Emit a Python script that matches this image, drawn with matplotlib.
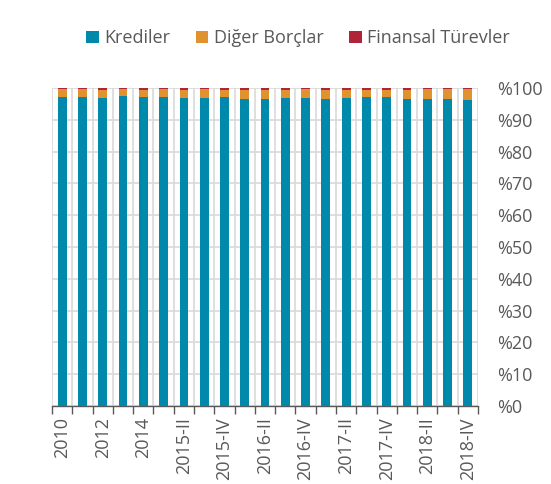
import numpy as np
import matplotlib.pyplot as plt

plt.rcParams['font.family'] = ['Open Sans', 'DejaVu Sans']

# categories (21 periods), only every other one is labelled
periods = ['2010', '2011', '2012', '2013', '2014',
           '2015-I', '2015-II', '2015-III', '2015-IV',
           '2016-I', '2016-II', '2016-III', '2016-IV',
           '2017-I', '2017-II', '2017-III', '2017-IV',
           '2018-I', '2018-II', '2018-III', '2018-IV']

# shares in percent
krediler = [97.3, 97.1, 96.9, 97.6, 97.2, 97.2, 97.0, 97.0, 97.1, 96.5, 96.5,
            96.9, 97.0, 96.5, 97.0, 97.3, 97.1, 96.6, 96.6, 96.4, 96.1]
diger = [2.5, 2.7, 2.6, 2.2, 2.3, 2.5, 2.5, 2.7, 2.4, 3.0, 3.0,
         2.6, 2.7, 3.0, 2.5, 2.2, 2.4, 2.9, 3.1, 3.3, 3.6]
finansal = [0.2, 0.2, 0.5, 0.2, 0.5, 0.3, 0.5, 0.3, 0.5, 0.5, 0.5,
            0.5, 0.3, 0.5, 0.5, 0.5, 0.5, 0.5, 0.3, 0.3, 0.3]

c_kred = '#0089AB'
c_dig = '#E09230'
c_fin = '#B0243A'
grey = '#595959'

fig = plt.figure(figsize=(5.51, 4.84), dpi=100)
ax = fig.add_axes([0.0944, 0.1612, 0.7731, 0.657])

x = np.arange(len(periods))
kred = np.array(krediler)
dig = np.array(diger)
fin = np.array(finansal)
w = 0.43
ax.bar(x, kred, w, color=c_kred, label='Krediler', zorder=3)
ax.bar(x, dig, w, bottom=kred, color=c_dig, label='Diğer Borçlar', zorder=3)
ax.bar(x, fin, w, bottom=kred + dig, color=c_fin, label='Finansal Türevler', zorder=3)

ax.set_xlim(-0.5, len(periods) - 0.5)
ax.set_ylim(0, 100)

# y axis on the right
ax.yaxis.tick_right()
ax.set_yticks(np.arange(0, 101, 10))
ax.set_yticklabels(['%' + str(v) for v in range(0, 101, 10)])
ax.tick_params(axis='y', length=0, pad=14, labelsize=13, labelcolor=grey)

# x ticks: labels at every other bar, tick marks at boundaries
ax.set_xticks(x[::2])
ax.set_xticklabels(periods[::2], rotation=90)
ax.tick_params(axis='x', which='major', length=0, pad=8, labelsize=13, labelcolor=grey)
ax.set_xticks(np.arange(-0.5, len(periods), 1), minor=True)
ax.tick_params(axis='x', which='minor', length=6, width=1, color=grey)

ax.grid(axis='y', color='#D9D9D9', linewidth=1.2, zorder=0)
ax.grid(axis='x', which='minor', color='#D9D9D9', linewidth=1.2, zorder=0)
ax.grid(axis='x', which='major', visible=False)

for s in ['top', 'left', 'right']:
    ax.spines[s].set_visible(False)
ax.spines['bottom'].set_color(grey)
ax.spines['bottom'].set_linewidth(1)

fig.legend(loc='center', bbox_to_anchor=(0.541, 0.921), ncol=3, frameon=False,
           fontsize=13, handlelength=0.7, handleheight=0.7, handletextpad=0.3,
           columnspacing=1.4, labelcolor=grey)

fig.savefig('out.png', dpi=100)
